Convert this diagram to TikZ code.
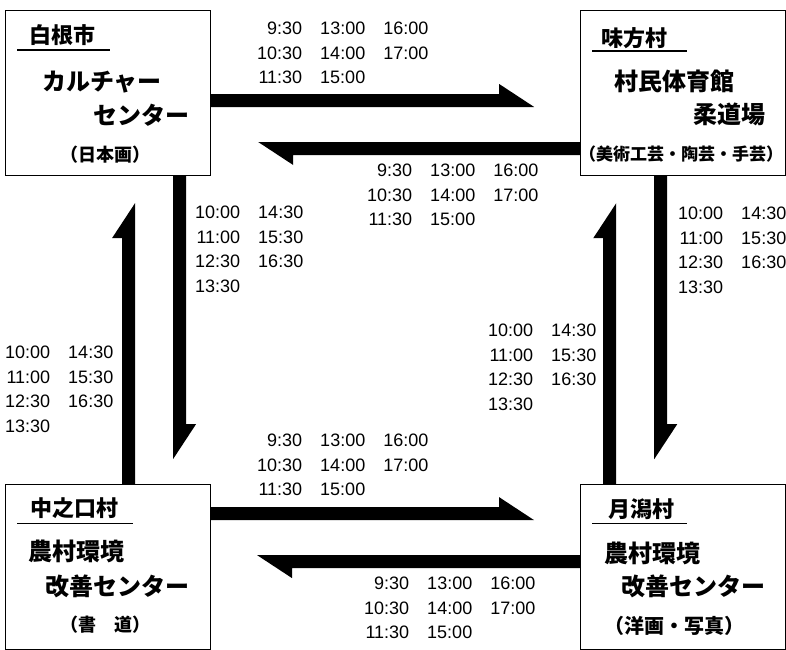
\documentclass[tikz,border=0pt]{standalone}
\usepackage{fontspec}
\usetikzlibrary{positioning, calc}
\newfontfamily\jpfont{Noto Sans CJK JP}
\newfontfamily\clockfont{Liberation Sans}

% departure times, up to three columns
\newcommand\deps[1]{\begin{tabular}[t]{@{}r@{\hspace{18pt}}r@{\hspace{18pt}}r@{}}#1\end{tabular}}
% half-headed bus route: #1 start on the box, #2 tip (both on the right-hand edge)
\newcommand\bus[2]{%
  \path ($(#2)!35pt!(#1)$) coordinate (hb);
  \fill (#1) -- (#2) -- ($(hb)!23pt!-90:(#1)$) -- ($(hb)!13pt!-90:(#1)$)
    -- ($(#1)!13pt!90:(#2)$) -- cycle;}

\begin{document}
\begin{tikzpicture}[x=1pt, y=-1pt,
    venue/.style={rectangle, draw, line width=1.2pt, minimum width=205pt, minimum height=165pt, inner sep=0pt},
    town/.style={font=\jpfont\bfseries\fontsize{22}{26}\selectfont, inner sep=0pt, anchor=west},
    hall/.style={font=\jpfont\bfseries\fontsize{24}{28}\selectfont, inner sep=0pt},
    course/.style={font=\jpfont\bfseries\fontsize{18}{21}\selectfont, inner sep=0pt},
    times/.style={font=\clockfont\fontsize{18}{24.5}\selectfont, inner sep=0pt, anchor=base west}]
    \useasboundingbox (0,0) rectangle (786,649);

    \node [venue, anchor=north west] (shirone) at (5,10) {};
    \node [venue, right=369pt of shirone] (ajikata) {};
    \node [venue, below=308pt of shirone] (nakanokuchi) {};
    \node [venue, right=369pt of nakanokuchi] (tsukigata) {};

    % 白根市
    \node [town] (shirone-t) at ($(shirone.north west)+(24,25)$) {白根市};
    \draw [line width=1.2pt] ($(shirone.north west)+(12,40)$) -- ++(93,0);
    \node [hall, anchor=west] (shirone-a) at ($(shirone.north west)+(37,72)$) {カルチャー};
    \node [hall, anchor=east] (shirone-b) at ($(shirone.north west)+(185,105)$) {センター};
    \node [course] (shirone-c) at ($(shirone.north west)+(100,145)$) {（日本画）};

    % 味方村
    \node [town] (ajikata-t) at ($(ajikata.north west)+(21,28)$) {味方村};
    \draw [line width=1.2pt] ($(ajikata.north west)+(12,41)$) -- ++(95,0);
    \node [hall, anchor=west] (ajikata-a) at ($(ajikata.north west)+(34,71)$) {村民体育館};
    \node [hall, anchor=east] (ajikata-b) at ($(ajikata.north west)+(185,104)$) {柔道場};
    \node [course, font=\jpfont\bfseries\fontsize{17}{20}\selectfont] (ajikata-c) at ($(ajikata.north west)+(101,144)$) {（美術工芸・陶芸・手芸）};

    % 中之口村
    \node [town] (nakanokuchi-t) at ($(nakanokuchi.north west)+(25,24)$) {中之口村};
    \draw [line width=1.2pt] ($(nakanokuchi.north west)+(12,39)$) -- ++(116,0);
    \node [hall, anchor=west] (nakanokuchi-a) at ($(nakanokuchi.north west)+(23,67)$) {農村環境};
    \node [hall, anchor=east] (nakanokuchi-b) at ($(nakanokuchi.north west)+(185,102)$) {改善センター};
    \node [course] (nakanokuchi-c) at ($(nakanokuchi.north west)+(100,140)$) {（書　道）};

    % 月潟村
    \node [town] (tsukigata-t) at ($(tsukigata.north west)+(28,25)$) {月潟村};
    \draw [line width=1.2pt] ($(tsukigata.north west)+(12,39)$) -- ++(95,0);
    \node [hall, anchor=west] (tsukigata-a) at ($(tsukigata.north west)+(24,69)$) {農村環境};
    \node [hall, anchor=east] (tsukigata-b) at ($(tsukigata.north west)+(185,102)$) {改善センター};
    \node [course, font=\jpfont\bfseries\fontsize{20}{23}\selectfont] (tsukigata-c) at ($(tsukigata.north west)+(94,142)$) {（洋画・写真）};

    % routes
    \coordinate (r1s) at ($(shirone.north east)+(0,97)$);
    \coordinate (r1e) at ($(ajikata.north west)+(-46,97)$);
    \coordinate (r2s) at ($(ajikata.north west)+(0,132)$);
    \coordinate (r2e) at ($(shirone.north east)+(47,132)$);
    \coordinate (r3s) at ($(shirone.south west)+(168,0)$);
    \coordinate (r3e) at ($(nakanokuchi.north west)+(168,-25)$);
    \coordinate (r4s) at ($(nakanokuchi.north west)+(130,0)$);
    \coordinate (r4e) at ($(shirone.south west)+(130,27)$);
    \coordinate (r5s) at ($(ajikata.south west)+(74,0)$);
    \coordinate (r5e) at ($(tsukigata.north west)+(74,-25)$);
    \coordinate (r6s) at ($(tsukigata.north west)+(36,0)$);
    \coordinate (r6e) at ($(ajikata.south west)+(36,27)$);
    \coordinate (r7s) at ($(nakanokuchi.north east)+(0,36)$);
    \coordinate (r7e) at ($(tsukigata.north west)+(-46,36)$);
    \coordinate (r8s) at ($(tsukigata.north west)+(0,71)$);
    \coordinate (r8e) at ($(nakanokuchi.north east)+(46,71)$);
    \bus{r1s}{r1e}
    \bus{r2s}{r2e}
    \bus{r3s}{r3e}
    \bus{r4s}{r4e}
    \bus{r5s}{r5e}
    \bus{r6s}{r6e}
    \bus{r7s}{r7e}
    \bus{r8s}{r8e}

    % timetables
    \node [times] (t1) at (257,34.5) {\deps{9:30 & 13:00 & 16:00\\ 10:30 & 14:00 & 17:00\\ 11:30 & 15:00 &}};
    \node [times] (t2) at (367,176.5) {\deps{9:30 & 13:00 & 16:00\\ 10:30 & 14:00 & 17:00\\ 11:30 & 15:00 &}};
    \node [times] (t3) at (195,218.5) {\deps{10:00 & 14:30 &\\ 11:00 & 15:30 &\\ 12:30 & 16:30 &\\ 13:30 & &}};
    \node [times] (t4) at (5,358.5) {\deps{10:00 & 14:30 &\\ 11:00 & 15:30 &\\ 12:30 & 16:30 &\\ 13:30 & &}};
    \node [times] (t5) at (678,219.5) {\deps{10:00 & 14:30 &\\ 11:00 & 15:30 &\\ 12:30 & 16:30 &\\ 13:30 & &}};
    \node [times] (t6) at (488,336.5) {\deps{10:00 & 14:30 &\\ 11:00 & 15:30 &\\ 12:30 & 16:30 &\\ 13:30 & &}};
    \node [times] (t7) at (257,446.5) {\deps{9:30 & 13:00 & 16:00\\ 10:30 & 14:00 & 17:00\\ 11:30 & 15:00 &}};
    \node [times] (t8) at (364,589.5) {\deps{9:30 & 13:00 & 16:00\\ 10:30 & 14:00 & 17:00\\ 11:30 & 15:00 &}};
\end{tikzpicture}
\end{document}
